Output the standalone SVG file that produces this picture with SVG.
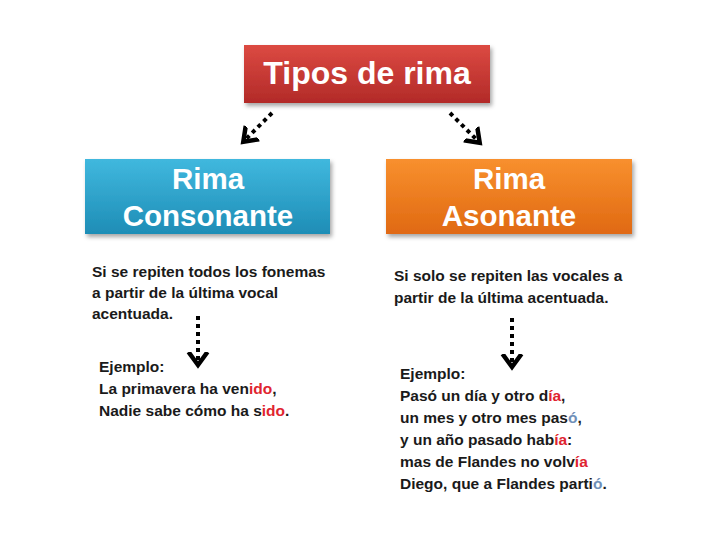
<svg xmlns="http://www.w3.org/2000/svg" width="728" height="546" viewBox="0 0 728 546">
<style>
.head{font-family:"Liberation Sans",Arial,sans-serif;font-weight:bold;fill:#ffffff;text-anchor:middle}
.body{font-family:"Liberation Sans",Arial,sans-serif;font-weight:bold;font-size:15.5px;fill:#1a1a1a}
.r{fill:#e0242f}
.b{fill:#6f8fb8}
.dots{stroke:#000;stroke-width:4;stroke-dasharray:4 4;fill:none}
</style>
<defs>
<linearGradient id="gRed" x1="0" y1="0" x2="0" y2="1"><stop offset="0" stop-color="#dc4a42"/><stop offset="1" stop-color="#b22a28"/></linearGradient>
<linearGradient id="gBlue" x1="0" y1="0" x2="0" y2="1"><stop offset="0" stop-color="#40b8de"/><stop offset="1" stop-color="#1e8db6"/></linearGradient>
<linearGradient id="gOrange" x1="0" y1="0" x2="0" y2="1"><stop offset="0" stop-color="#f8902e"/><stop offset="1" stop-color="#e06912"/></linearGradient>
<filter id="sh" x="-10%" y="-10%" width="130%" height="140%"><feDropShadow dx="2" dy="3" stdDeviation="2" flood-color="#000" flood-opacity="0.35"/></filter>
<marker id="chev" markerUnits="userSpaceOnUse" markerWidth="30" markerHeight="30" refX="12" refY="15" orient="auto" viewBox="0 0 30 30">
<path d="M0,5.5 L13,15 L0,24.5" fill="none" stroke="#000" stroke-width="4.5" stroke-linejoin="miter" stroke-linecap="butt"/>
</marker>
</defs>

<g id="connectors">
<path class="dots" d="M272,113 L244,141" marker-end="url(#chev)"/>
<path class="dots" d="M450,113 L479,142" marker-end="url(#chev)"/>
<path class="dots" d="M198,316 L198,364" marker-end="url(#chev)"/>
<path class="dots" d="M512,318 L512,366" marker-end="url(#chev)"/>
</g>

<g id="tipos">
<rect x="244" y="45" width="246" height="58" fill="url(#gRed)" filter="url(#sh)"/>
<text class="head" x="367" y="84" font-size="32">Tipos de rima</text>
</g>

<g id="consonante">
<rect x="85" y="159" width="245" height="75" fill="url(#gBlue)" filter="url(#sh)"/>
<text class="head" x="208" y="189" font-size="29.5">Rima</text>
<text class="head" x="208" y="226" font-size="29.5">Consonante</text>
</g>

<g id="asonante">
<rect x="386" y="159" width="246" height="75" fill="url(#gOrange)" filter="url(#sh)"/>
<text class="head" x="509" y="189" font-size="29.5">Rima</text>
<text class="head" x="509" y="226" font-size="29.5">Asonante</text>
</g>

<g id="def-consonante">
<text class="body" x="92" y="277">Si se repiten todos los fonemas</text>
<text class="body" x="92" y="298">a partir de la última vocal</text>
<text class="body" x="92" y="319">acentuada.</text>
</g>

<g id="ej-consonante">
<text class="body" x="99" y="372">Ejemplo:</text>
<text class="body" x="99" y="394">La primavera ha ven<tspan class="r">ido</tspan>,</text>
<text class="body" x="99" y="416">Nadie sabe cómo ha s<tspan class="r">ido</tspan>.</text>
</g>

<g id="def-asonante">
<text class="body" x="394" y="281">Si solo se repiten las vocales a</text>
<text class="body" x="394" y="303">partir de la última acentuada.</text>
</g>

<g id="ej-asonante">
<text class="body" x="400" y="379">Ejemplo:</text>
<text class="body" x="400" y="401">Pasó un día y otro d<tspan class="r">ía</tspan>,</text>
<text class="body" x="400" y="423">un mes y otro mes pas<tspan class="b">ó</tspan>,</text>
<text class="body" x="400" y="445">y un año pasado hab<tspan class="r">ía</tspan>:</text>
<text class="body" x="400" y="467">mas de Flandes no volv<tspan class="r">ía</tspan></text>
<text class="body" x="400" y="489">Diego, que a Flandes parti<tspan class="b">ó</tspan>.</text>
</g>
</svg>
